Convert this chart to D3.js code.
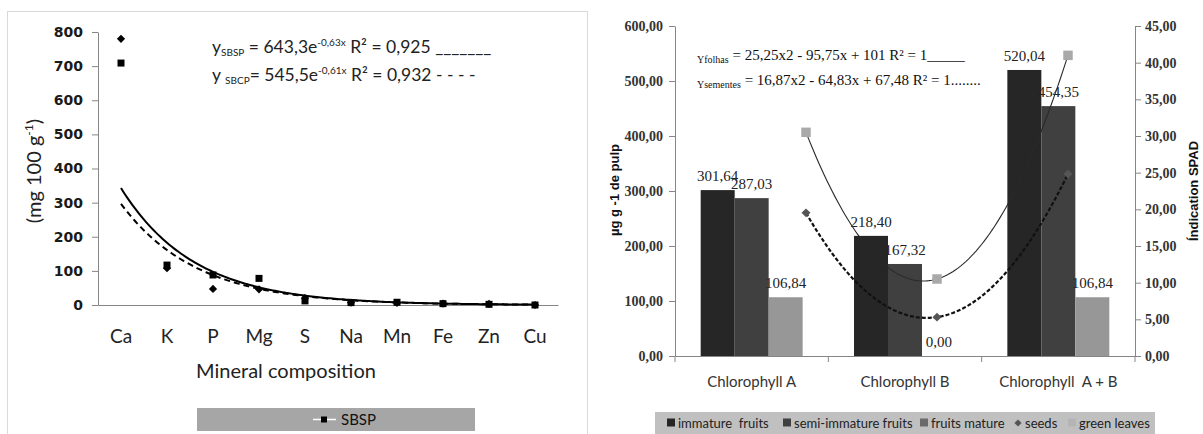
<!DOCTYPE html>
<html><head><meta charset="utf-8">
<script src="https://cdn.jsdelivr.net/npm/d3@7"></script>
<style>
body{margin:0;background:#fff}
svg{display:block}
</style></head><body>
<svg id="c" width="1203" height="434"></svg>
<script>
// ===== Left chart data =====
const minerals = ["Ca","K","P","Mg","S","Na","Mn","Fe","Zn","Cu"];
const sbsp = [709,117,88,78,12,7,8,4,2,0];      // squares
const sbcp = [780,108,47,46,20,7,6,4,3,0];      // diamonds
const leftTicks = [0,100,200,300,400,500,600,700,800];
const sbspFit = [643.3,-0.63];   // y = a*e^(b x)
const sbcpFit = [545.5,-0.61];

// ===== Right chart data =====
const groups = ["Chlorophyll A","Chlorophyll B","Chlorophyll  A + B"];
const barSeries = ["immature  fruits","semi-immature fruits","fruits mature"];
const immature = [301.64,218.40,520.04];
const semiImmature = [287.03,167.32,454.35];
const fruitsMature = [106.84,0.00,106.84];
const seeds = [19.52,5.30,24.82];
const greenLeaves = [30.50,10.50,41.00];
const pulpTicks = [0,100,200,300,400,500,600];
const spadTicks = [0,5,10,15,20,25,30,35,40,45];
const folhasFit = [25.25,-95.75,101];
const sementesFit = [16.87,-64.83,67.48];

const svg = d3.select("#c");
svg.append("rect").attr("width",1203).attr("height",434).attr("fill","#fff");
const axisColor = "#868686";
const sans = "Lato, 'Open Sans', sans-serif";
const serif = "'Liberation Serif', 'DejaVu Serif', serif";

// ================= LEFT =================
const L = svg.append("g");
L.append("rect").attr("x",7.5).attr("y",11.5).attr("width",580).attr("height",440)
  .attr("fill","none").attr("stroke","#d9d9d9");
const xL = d3.scaleBand().domain(minerals).range([98,558]);
const yL = d3.scaleLinear().domain([0,800]).range([305,32]);
const cx = m => xL(m)+xL.bandwidth()/2;

const gyL = L.append("g").attr("transform","translate(98,0)")
  .call(d3.axisLeft(yL).tickValues(leftTicks).tickSize(6).tickSizeOuter(0).tickPadding(9));
gyL.select(".domain").attr("stroke",axisColor);
gyL.selectAll(".tick line").attr("stroke",axisColor);
gyL.selectAll("text").attr("font-family","'DejaVu Sans', sans-serif").attr("font-weight","bold")
  .attr("font-size",14).attr("fill","#1a1a1a");

const gxL = L.append("g").attr("transform","translate(0,305)")
  .call(d3.axisBottom(xL).tickSize(0).tickPadding(25));
gxL.select(".domain").attr("stroke",axisColor);
gxL.selectAll("text").attr("font-family",sans).attr("font-size",19).attr("fill","#222");

L.append("text").attr("x",286).attr("y",378).attr("text-anchor","middle")
  .attr("font-family",sans).attr("font-size",20).attr("fill","#222").text("Mineral composition");

const yt = L.append("text").attr("transform","translate(41,171) rotate(-90)").attr("text-anchor","middle")
  .attr("font-family",sans).attr("font-size",20).attr("fill","#222");
yt.append("tspan").text("(mg 100 g");
yt.append("tspan").attr("font-size",12).attr("dy",-8).text("-1");
yt.append("tspan").attr("dy",8).text(")");

// trend lines
const xi = d3.scaleLinear().domain([1,10]).range([cx("Ca"),cx("Cu")]);
const tS = d3.range(1,10.001,0.05);
const lineL = d3.line().x(d=>xi(d[0])).y(d=>yL(d[1]));
L.append("path").datum(tS.map(t=>[t,sbspFit[0]*Math.exp(sbspFit[1]*t)])).attr("d",lineL)
  .attr("fill","none").attr("stroke","#000").attr("stroke-width",2);
L.append("path").datum(tS.map(t=>[t,sbcpFit[0]*Math.exp(sbcpFit[1]*t)])).attr("d",lineL)
  .attr("fill","none").attr("stroke","#000").attr("stroke-width",2).attr("stroke-dasharray","6,4");

// markers
const sq = d3.symbol(d3.symbolSquare,49);
const dia = d3.symbol(d3.symbolSquare,34);
L.selectAll(".dia").data(sbcp).join("path").attr("d",dia)
  .attr("transform",(d,i)=>`translate(${cx(minerals[i])},${yL(d)}) rotate(45)`).attr("fill","#000");
L.selectAll(".sq").data(sbsp).join("path").attr("d",sq)
  .attr("transform",(d,i)=>`translate(${cx(minerals[i])},${yL(d)})`).attr("fill","#000");

// equations
function eq(g,x,y,parts){
  const t = g.append("text").attr("x",x).attr("y",y).attr("font-family",sans).attr("fill","#222")
    .attr("font-size",17.5).style("white-space","pre");
  parts.forEach(p=>t.append("tspan").attr("font-size",p[1]).attr("dy",p[2]).text(p[0]));
  return t;
}
eq(L,212,53,[["y",17.5,0],["SBSP",10,3],[" = 643,3e",17.5,-3],["-0,63x",10,-7],[" R² = 0,925 ",17.5,7],["_______",17.5,0]]);
eq(L,212,81,[["y ",17.5,0],["SBCP",10,3],["= 545,5e",17.5,-3],["-0,61x",10,-7],[" R² = 0,932 - - - -",17.5,7]]);

// legend
L.append("rect").attr("x",197).attr("y",408).attr("width",278).attr("height",23).attr("fill","#a6a6a6");
L.append("line").attr("x1",313).attr("x2",336).attr("y1",419.5).attr("y2",419.5).attr("stroke","#fff").attr("stroke-width",1.5);
L.append("path").attr("d",d3.symbol(d3.symbolSquare,36)).attr("transform","translate(324,419.5)").attr("fill","#000");
L.append("text").attr("x",341).attr("y",425).attr("font-family",sans).attr("font-size",15).attr("fill","#111").text("SBSP");

// ================= RIGHT =================
const R = svg.append("g");
const x0 = d3.scaleBand().domain(groups).range([675,1135]).paddingInner(0.335).paddingOuter(0.1675);
const x1 = d3.scaleBand().domain(barSeries).range([0,x0.bandwidth()]);
const yR = d3.scaleLinear().domain([0,600]).range([356,26]);
const y2 = d3.scaleLinear().domain([0,45]).range([356,26]);
const fmt = d => d3.format(".2f")(d).replace(".",",");
const barColors = ["#262626","#404040","#979797"];
const barData = [immature,semiImmature,fruitsMature];

const gyR = R.append("g").attr("transform","translate(675,0)")
  .call(d3.axisLeft(yR).tickValues(pulpTicks).tickFormat(fmt).tickSize(6).tickSizeOuter(0).tickPadding(6));
const gy2 = R.append("g").attr("transform","translate(1135,0)")
  .call(d3.axisRight(y2).tickValues(spadTicks).tickFormat(fmt).tickSize(6).tickSizeOuter(0).tickPadding(4));
[gyR,gy2].forEach(g=>{
  g.select(".domain").attr("stroke",axisColor);
  g.selectAll(".tick line").attr("stroke",axisColor);
  g.selectAll("text").attr("font-family",serif).attr("font-size",14).attr("font-weight","bold").attr("fill","#333");
});
// x axis
const gxR = R.append("g").attr("transform","translate(0,356)")
  .call(d3.axisBottom(x0).tickSize(0).tickPadding(20).tickSizeOuter(0));
gxR.select(".domain").attr("stroke",axisColor);
gxR.selectAll("text").attr("font-family",sans).attr("font-size",15).attr("fill","#333").style("white-space","pre");
R.selectAll(".gtick").data(d3.range(groups.length+1)).join("line")
  .attr("x1",i=>675+i*x0.step()).attr("x2",i=>675+i*x0.step()).attr("y1",356).attr("y2",362).attr("stroke",axisColor);

// bars
barData.forEach((arr,j)=>{
  R.selectAll(".b"+j).data(arr).join("rect")
    .attr("x",(d,i)=>x0(groups[i])+x1(barSeries[j])).attr("width",x1.bandwidth())
    .attr("y",d=>yR(d)).attr("height",d=>yR(0)-yR(d)).attr("fill",barColors[j]);
});
barData.forEach((arr,j)=>{
  R.selectAll(".l"+j).data(arr).join("text")
    .attr("x",(d,i)=>x0(groups[i])+x1(barSeries[j])+x1.bandwidth()/2)
    .attr("y",d=>yR(d)-9).attr("text-anchor","middle")
    .attr("font-family",serif).attr("font-size",15).attr("fill","#222").text(fmt);
});

// secondary lines
const xp = d3.scalePoint().domain(groups).range([806,1068]);
const xq = d3.scaleLinear().domain([1,3]).range([xp(groups[0]),xp(groups[2])]);
const tq = d3.range(1,3.0001,0.02);
const quad = (c,t)=>c[0]*t*t+c[1]*t+c[2];
const lineR = d3.line().x(d=>xq(d[0])).y(d=>y2(d[1]));
R.append("path").datum(tq.map(t=>[t,quad(folhasFit,t)])).attr("d",lineR)
  .attr("fill","none").attr("stroke","#2a2a2a").attr("stroke-width",1.1);
R.append("path").datum(tq.map(t=>[t,quad(sementesFit,t)])).attr("d",lineR)
  .attr("fill","none").attr("stroke","#111").attr("stroke-width",2.2).attr("stroke-dasharray","4,2");
R.selectAll(".gl").data(greenLeaves).join("path").attr("d",d3.symbol(d3.symbolSquare,90))
  .attr("transform",(d,i)=>`translate(${xp(groups[i])},${y2(d)})`).attr("fill","#a9a9a9");
R.selectAll(".sd").data(seeds).join("path").attr("d",d3.symbol(d3.symbolSquare,40))
  .attr("transform",(d,i)=>`translate(${xp(groups[i])},${y2(d)}) rotate(45)`).attr("fill","#555");

// axis titles
R.append("text").attr("transform","translate(619,190) rotate(-90)").attr("text-anchor","middle")
  .attr("font-family","'Liberation Sans', Arial, sans-serif").attr("font-weight","bold").attr("font-size",13)
  .attr("fill","#111").text("µg g -1 de pulp");
R.append("text").attr("transform","translate(1198,191) rotate(-90)").attr("text-anchor","middle")
  .attr("font-family","'Liberation Sans', Arial, sans-serif").attr("font-weight","bold").attr("font-size",13)
  .attr("fill","#111").text("Índication SPAD");

// equations (Times)
function eqR(x,y,parts){
  const t = R.append("text").attr("x",x).attr("y",y).attr("font-family",serif).attr("fill","#111").style("white-space","pre");
  parts.forEach(p=>t.append("tspan").attr("font-size",p[1]).attr("dy",p[2]).text(p[0]));
}
eqR(697,60,[["Yfolhas",10,3],[" = 25,25x2 - 95,75x + 101 R² = 1_____",15,-3]]);
eqR(697,85,[["Ysementes",10,3],[" = 16,87x2 - 64,83x + 67,48 R² = 1........",15,-3]]);

// legend
R.append("rect").attr("x",655).attr("y",412).attr("width",500).attr("height",30).attr("fill","#c0c0c0");
const legItems = [
  {label:barSeries[0], color:barColors[0], shape:"sq"},
  {label:barSeries[1], color:barColors[1], shape:"sq"},
  {label:barSeries[2], color:"#6a6a6a", shape:"sq"},
  {label:"seeds", color:"#555", shape:"dia"},
  {label:"green leaves", color:"#b5b5b5", shape:"sq"}
];
const legX = [667,783,920,1014,1068];
legItems.forEach((it,i)=>{
  const g = R.append("g").attr("transform",`translate(${legX[i]},423)`);
  if(it.shape==="sq") g.append("rect").attr("x",0).attr("y",-4.5).attr("width",8).attr("height",8).attr("fill",it.color);
  else g.append("path").attr("d",d3.symbol(d3.symbolSquare,26)).attr("transform","translate(4,0) rotate(45)").attr("fill",it.color);
  g.append("text").attr("x",11).attr("y",4.5).attr("font-family",sans).attr("font-size",13)
    .attr("fill","#222").style("white-space","pre").text(it.label);
});
</script>
</body></html>
